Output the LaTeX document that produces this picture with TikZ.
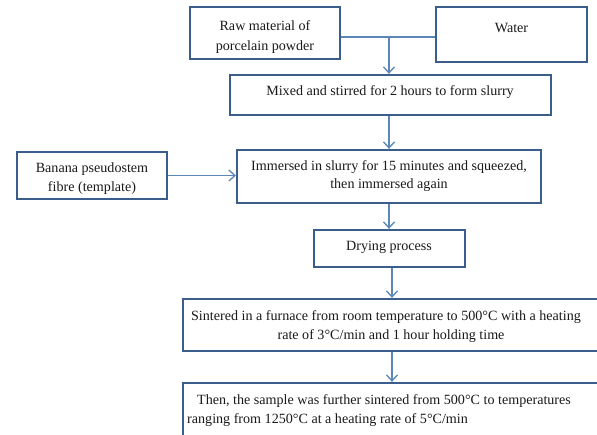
\documentclass[tikz,border=0pt]{standalone}
\usepackage{fontspec}
\setmainfont{Liberation Serif}
\usetikzlibrary{arrows.meta}
\definecolor{boxc}{HTML}{3A5D8C}
\definecolor{arrc}{HTML}{5A86B8}
\definecolor{txtc}{HTML}{1A1A1A}
\tikzset{
  box/.style={draw=boxc, line width=2.3pt, fill=white, inner sep=0pt},
  conn/.style={draw=arrc, line width=1.3pt},
  arr/.style={conn, -{Straight Barb[length=6pt,width=11pt,line width=1.3pt]}},
  lbl/.style={text=txtc, font=\fontsize{14.1}{19}\selectfont, inner sep=0pt, anchor=base},
}
\begin{document}
\begin{tikzpicture}[x=1pt,y=-1pt]
\useasboundingbox (0,0) rectangle (597,434);
\fill[white] (0,0) rectangle (597,434);
\clip (0,0) rectangle (597,434);
% boxes
\node[box, minimum width=150pt, minimum height=52pt] (raw) at (265,33) {};
\node[box, minimum width=151pt, minimum height=55pt] (water) at (511.5,34.5) {};
\node[box, minimum width=321pt, minimum height=40pt] (mixed) at (390.5,95) {};
\node[box, minimum width=150pt, minimum height=47pt] (banana) at (92,175.5) {};
\node[box, minimum width=304pt, minimum height=53pt] (immersed) at (389,176.5) {};
\node[box, minimum width=151pt, minimum height=37pt] (drying) at (389.5,248.5) {};
\node[box, minimum width=457pt, minimum height=52pt] (sinter) at (411.5,325) {};
\node[box, minimum width=457pt, minimum height=77pt] (final) at (411.5,421.5) {};
% texts
\node[lbl] (t1a) at (265,30) {Raw material of};
\node[lbl] (t1b) at (265,50) {porcelain powder};
\node[lbl] (t2) at (511.5,32) {Water};
\node[lbl] (t3) at (390,95) {Mixed and stirred for 2 hours to form slurry};
\node[lbl] (t4a) at (92,172) {Banana pseudostem};
\node[lbl] (t4b) at (92,191) {fibre (template)};
\node[lbl] (t5a) at (389,170) {Immersed in slurry for 15 minutes and squeezed,};
\node[lbl] (t5b) at (389,188) {then immersed again};
\node[lbl] (t6) at (389,250) {Drying process};
\node[lbl] (t7a) at (386,320) {Sintered in a furnace from room temperature to 500°C with a heating};
\node[lbl] (t7b) at (391,339) {rate of 3°C/min and 1 hour holding time};
\node[lbl, anchor=base west] (t8a) at (197,404) {Then, the sample was further sintered from 500°C to temperatures};
\node[lbl, anchor=base west] (t8b) at (187,423) {ranging from 1250°C at a heating rate of 5°C/min};
% connectors
\coordinate (j) at (389,37);
\coordinate (k) at (392,0);
\draw[conn] (j -| raw.east) -- (j -| water.west);
\draw[arr] (j) -- (j |- mixed.north);
\draw[arr] (mixed.south -| j) -- (immersed.north -| j);
\draw[arr] (banana.east) -- (immersed.west |- banana.east);
\draw[arr] (immersed.south) -- (immersed.south |- drying.north);
\draw[arr] (drying.south -| k) -- (sinter.north -| k);
\draw[arr] (sinter.south -| k) -- (final.north -| k);
\end{tikzpicture}
\end{document}
